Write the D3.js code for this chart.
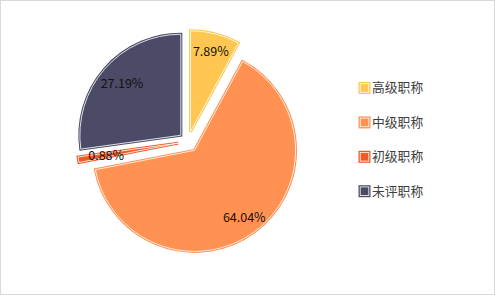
<!DOCTYPE html>
<html><head><meta charset="utf-8">
<script src="https://cdn.jsdelivr.net/npm/d3@7"></script>
<style>
html,body{margin:0;padding:0;background:#fff;}
svg{display:block;}
</style></head>
<body>
<svg id="chart" width="495" height="295"></svg>
<script>
const categories = ["高级职称", "中级职称", "初级职称", "未评职称"];
const values = [7.89, 64.04, 0.88, 27.19];
const labels = ["7.89%", "64.04%", "0.88%", "27.19%"];
const colors = ["#FFC751", "#FF9152", "#F05A26", "#4B4B67"];
const explode = [10, 11, 10, 9.5];
const labelR = [83, 84, 73, 78];

const svg = d3.select("#chart");
const W = 495, H = 295;
svg.append("rect").attr("x", 0.5).attr("y", 0.5).attr("width", W - 1).attr("height", H - 1)
  .attr("fill", "#fff").attr("stroke", "#d9d9d9").attr("stroke-width", 1);

const cx = 188, cy = 141.5, R = 101;
const pie = d3.pie().sort(null).value(d => d).startAngle(0).endAngle(2 * Math.PI);
const arcs = pie(values);
const arc = d3.arc().innerRadius(0).outerRadius(R);

const g = svg.append("g").attr("transform", `translate(${cx},${cy})`);
const slices = g.selectAll("g.slice").data(arcs).enter().append("g")
  .attr("class", "slice")
  .attr("transform", (d, i) => {
    const a = (d.startAngle + d.endAngle) / 2;
    return `translate(${Math.sin(a) * explode[i]},${-Math.cos(a) * explode[i]})`;
  });
slices.append("path").attr("d", arc)
  .attr("fill", (d, i) => colors[i])
  .attr("stroke", (d, i) => colors[i])
  .attr("stroke-width", 3)
  .attr("stroke-linejoin", "miter");
slices.append("path").attr("d", arc)
  .attr("fill", "none")
  .attr("stroke", "#fff")
  .attr("stroke-opacity", 0.9)
  .attr("stroke-width", 0.9);

slices.append("text")
  .attr("x", (d, i) => Math.sin((d.startAngle + d.endAngle) / 2) * labelR[i])
  .attr("y", (d, i) => -Math.cos((d.startAngle + d.endAngle) / 2) * labelR[i])
  .attr("dy", "0.35em")
  .attr("text-anchor", "middle")
  .attr("font-family", "'Noto Sans CJK SC', 'Noto Sans', sans-serif")
  .attr("font-size", 12.5)
  .attr("fill", "#111")
  .text((d, i) => labels[i]);

const legend = svg.append("g").attr("transform", "translate(359,82.5)");
const rows = legend.selectAll("g").data(categories).enter().append("g")
  .attr("transform", (d, i) => `translate(0,${i * 34.4})`);
rows.append("rect").attr("x", 0.5).attr("y", 0.5).attr("width", 10).attr("height", 10)
  .attr("fill", (d, i) => colors[i]).attr("stroke", (d, i) => colors[i]).attr("stroke-width", 2);
rows.append("rect").attr("x", 1.2).attr("y", 1.2).attr("width", 8.6).attr("height", 8.6)
  .attr("fill", "none").attr("stroke", "#fff").attr("stroke-width", 0.8);
rows.append("text").attr("x", 13).attr("y", 5.5).attr("dy", "0.35em")
  .attr("font-family", "'Noto Sans CJK SC', sans-serif")
  .attr("font-size", 12.8).attr("fill", "#404040")
  .text(d => d);
</script>
</body></html>
